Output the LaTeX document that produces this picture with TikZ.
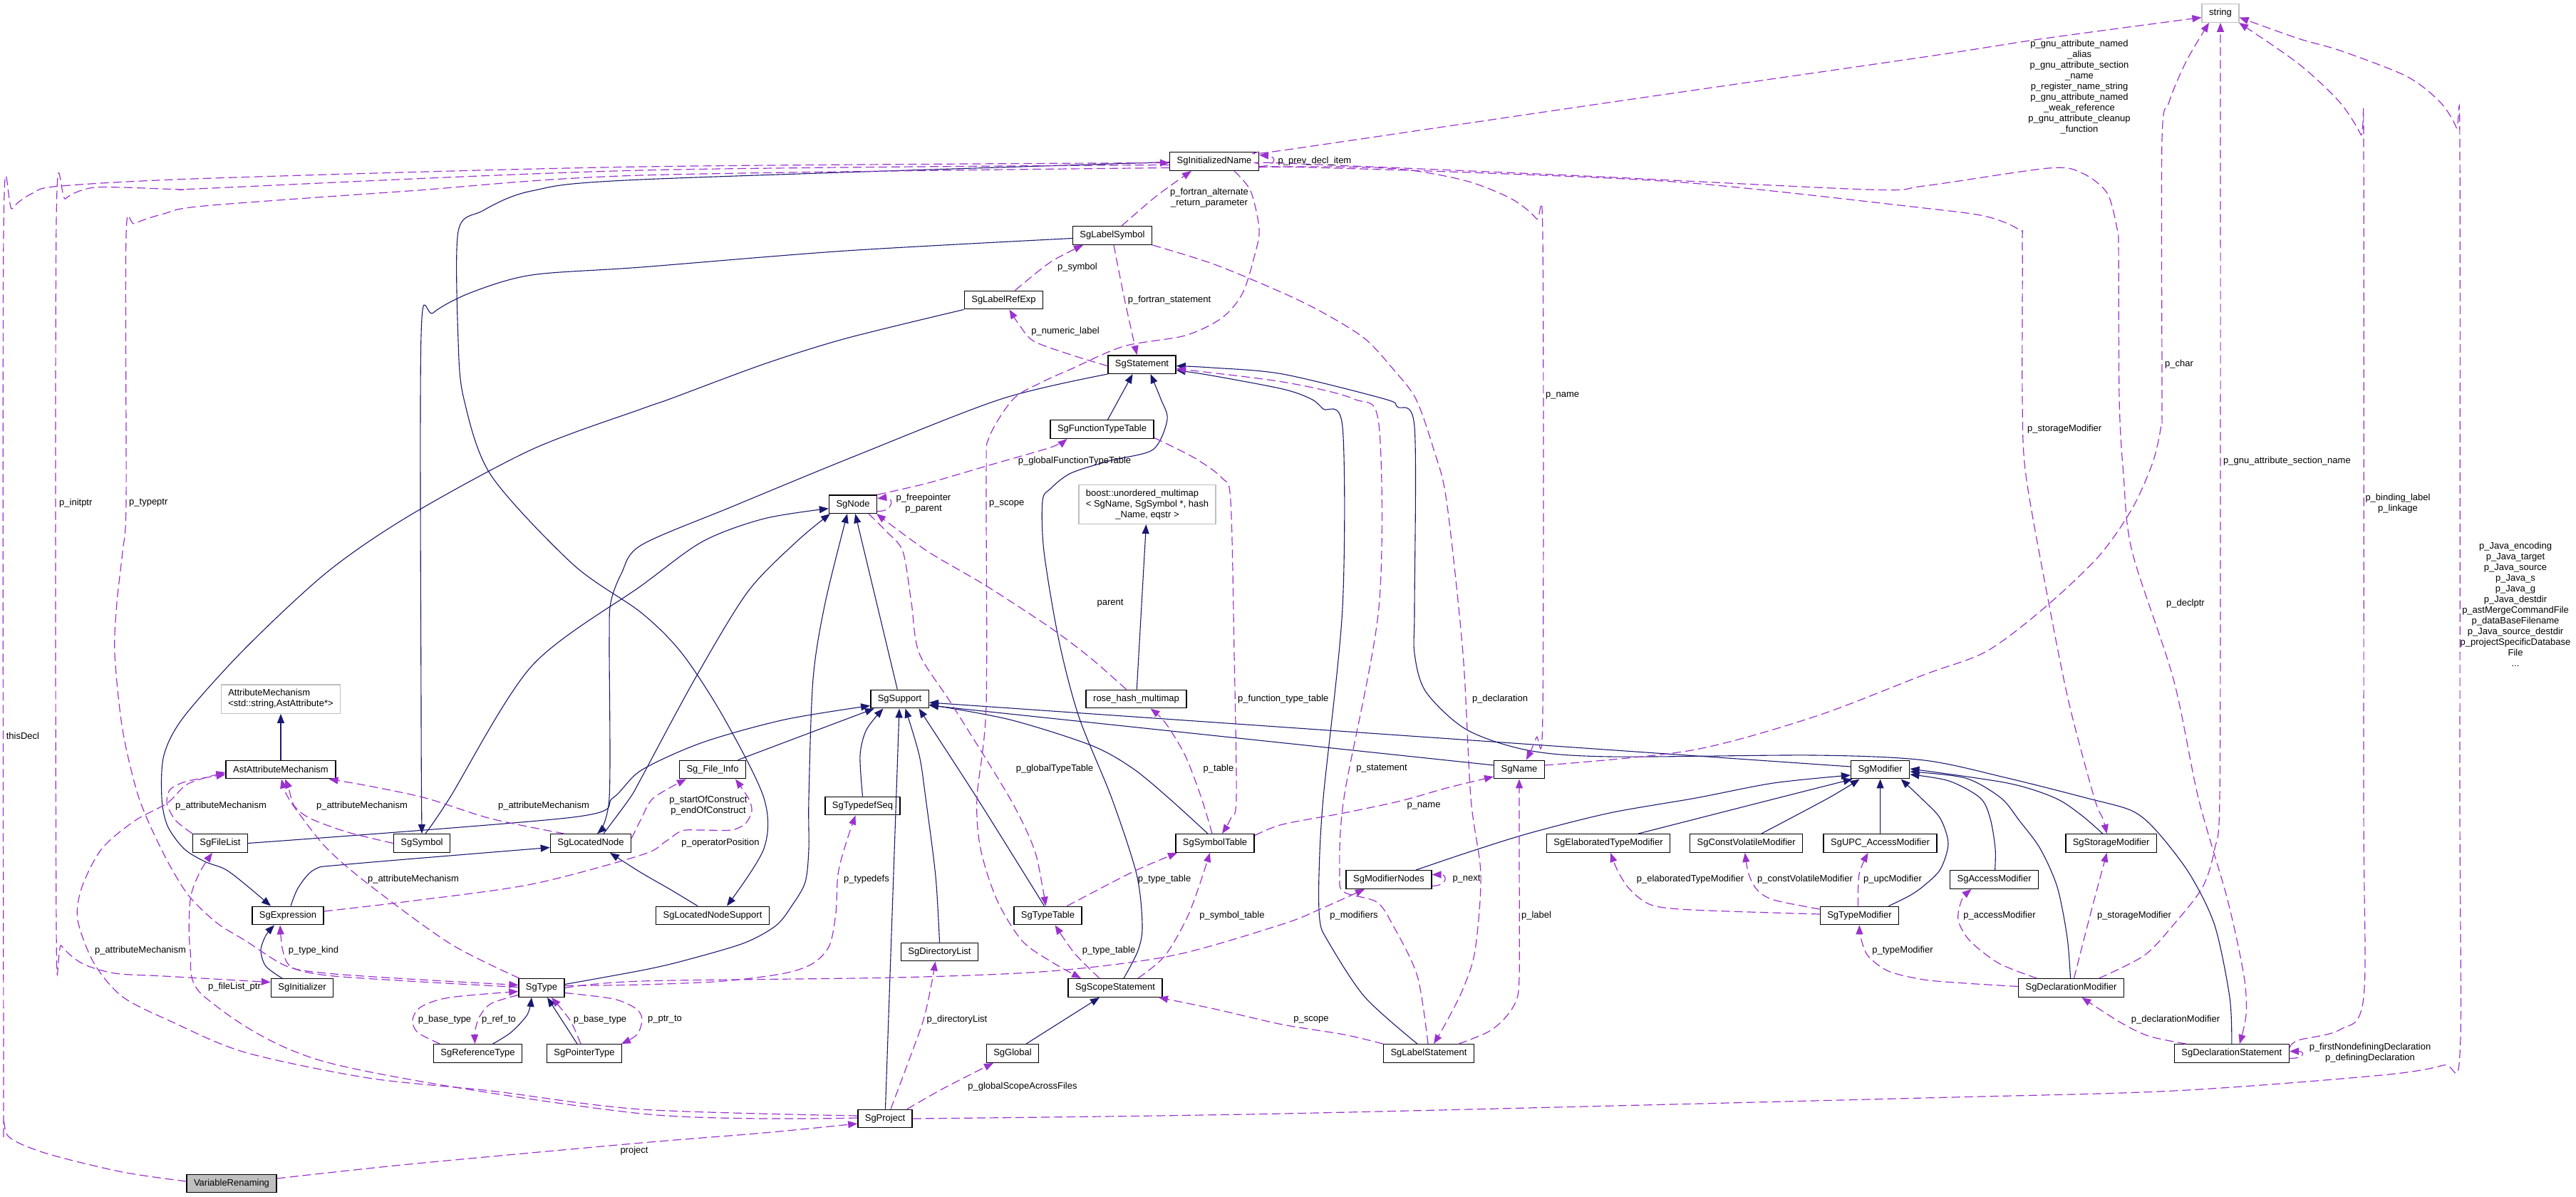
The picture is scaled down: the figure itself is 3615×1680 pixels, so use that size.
\documentclass[tikz,border=0pt]{standalone}
\usepackage{fontspec}
\setmainfont{Liberation Sans}
\usetikzlibrary{arrows.meta}
\definecolor{inhblue}{RGB}{25,25,112}
\definecolor{usepurple}{RGB}{154,50,205}
\definecolor{extgray}{RGB}{191,191,191}

\begin{document}
\begin{tikzpicture}[x=1pt,y=-1pt,font=\fontsize{13}{15}\selectfont,
    cls/.style={draw,line width=1.4pt,fill=white,inner xsep=10pt,inner ysep=0pt,minimum height=25.5pt},
    ext/.style={cls,draw=extgray},
    inh/.style={draw=inhblue,line width=1.1pt,-{Triangle[length=13pt,width=10pt]}},
    use/.style={draw=usepurple,line width=1.2pt,dash pattern=on 12pt off 6pt,-{Triangle[length=13pt,width=10pt]}},
    lbl/.style={inner sep=0pt,align=center}]
    \useasboundingbox (0,0) rectangle (3615,1680);

    \node[ext] (str) at (3116,18.5) {string};
    \node[cls] (ini) at (1704,226.5) {SgInitializedName};
    \node[cls] (lsym) at (1561,330.5) {SgLabelSymbol};
    \node[cls] (lref) at (1408.5,421) {SgLabelRefExp};
    \node[cls] (stmt) at (1602.5,511.6) {SgStatement};
    \node[cls] (ftt) at (1546.5,602.5) {SgFunctionTypeTable};
    \node[cls] (sgnode) at (1197,707.7) {SgNode};
    \node[ext,minimum height=54.7pt] (boost) at (1610,708) {\begin{tabular}{@{}l@{}}boost::unordered\_multimap\\< SgName, SgSymbol *, hash\\\multicolumn{1}{@{}c@{}}{\_Name, eqstr >}\end{tabular}};
    \node[cls] (sup) at (1262.5,981) {SgSupport};
    \node[cls] (rhm) at (1594.5,981) {rose\_hash\_multimap};
    \node[cls] (finfo) at (1000,1080) {Sg\_File\_Info};
    \node[ext,minimum height=40.4pt] (attm) at (394,981) {\begin{tabular}{@{}l@{}}AttributeMechanism\\<std::string,AstAttribute*>\end{tabular}};
    \node[cls] (astm) at (394,1080) {AstAttributeMechanism};
    \node[cls] (flist) at (309,1183.5) {SgFileList};
    \node[cls] (sym) at (592,1183.5) {SgSymbol};
    \node[cls] (lnode) at (829,1183.5) {SgLocatedNode};
    \node[cls] (expr) at (404,1285) {SgExpression};
    \node[cls] (init) at (424,1386.5) {SgInitializer};
    \node[cls] (type) at (760,1386.5) {SgType};
    \node[cls] (rtype) at (670.5,1478.5) {SgReferenceType};
    \node[cls] (ptype) at (820,1478.5) {SgPointerType};
    \node[cls,fill=extgray] (vr) at (325,1661) {VariableRenaming};
    \node[cls] (tds) at (1210.5,1131) {SgTypedefSeq};
    \node[cls] (lns) at (1000,1285) {SgLocatedNodeSupport};
    \node[cls] (ttab) at (1470.5,1285) {SgTypeTable};
    \node[cls] (stab) at (1705,1183.5) {SgSymbolTable};
    \node[cls] (dlist) at (1318.5,1336) {SgDirectoryList};
    \node[cls] (scope) at (1565,1386.5) {SgScopeStatement};
    \node[cls] (glob) at (1421,1478.5) {SgGlobal};
    \node[cls] (proj) at (1242,1570) {SgProject};
    \node[cls] (name) at (2132,1080) {SgName};
    \node[cls] (mod) at (2638.6,1080) {SgModifier};
    \node[cls] (mnodes) at (1949,1234.5) {SgModifierNodes};
    \node[cls] (etm) at (2257,1183.5) {SgElaboratedTypeModifier};
    \node[cls] (cvm) at (2450.7,1183.5) {SgConstVolatileModifier};
    \node[cls] (upc) at (2638.5,1183.5) {SgUPC\_AccessModifier};
    \node[cls] (tmod) at (2609.4,1285) {SgTypeModifier};
    \node[cls] (lstmt) at (2005,1478.5) {SgLabelStatement};
    \node[cls] (smod) at (2962.6,1183.5) {SgStorageModifier};
    \node[cls] (amod) at (2798.6,1234.5) {SgAccessModifier};
    \node[cls] (dmod) at (2906.5,1386.5) {SgDeclarationModifier};
    \node[cls] (dstmt) at (3131.8,1478.5) {SgDeclarationStatement};

    \draw[inh] (astm) -- (attm);
    \draw[inh] (sup) -- (sgnode);
    \draw[inh] plot[smooth] coordinates {([xshift=18]lnode.north) (884,1120) (900,1092) (975,953) (1049,831) (1118,760) ([xshift=-32]sgnode.south)};
    \draw[inh] plot[smooth] coordinates {([xshift=5]sym.north) (631,1120) (746,935) (900,822) (986,760) (1072,728) ([yshift=-6]sgnode.west)};
    \draw[inh] plot[smooth] coordinates {([yshift=5]type.east) (900,1362) (957,1349) (1043,1324) (1089,1299) (1112,1270) (1130,1238) (1135,1191) (1135,1120) (1141,953) (1158,846) ([xshift=-8]sgnode.south)};
    \draw[inh] (finfo) -- (sup);
    \draw[inh] plot[smooth] coordinates {(flist.east) (804,1147) (860,1120) (900,1081) (986,1042) (1101,1010) ([yshift=4]sup.south west)};
    \draw[inh] plot[smooth] coordinates {(tds.north) (1207,1060) (1216,1024) ([xshift=-23]sup.south)};
    \draw[inh] (proj) -- (sup);
    \draw[inh] plot[smooth] coordinates {(dlist.north) (1313,1230) (1299,1120) (1290,1060) ([xshift=8]sup.south)};
    \draw[inh] plot[smooth] coordinates {([xshift=-5]ttab.north) (1371,1120) ([xshift=27]sup.south)};
    \draw[inh] plot[smooth] coordinates {([xshift=-10]stab.north) (1640,1120) (1589,1078) (1531,1046) (1417,1010) ([yshift=-8]sup.east)};
    \draw[inh] ([yshift=6]name.west) -- ([yshift=-9]sup.east);
    \draw[inh] ([yshift=4]mod.west) -- ([yshift=-5]sup.east);
    \draw[inh] plot[smooth] coordinates {(stmt.south west) (1405,560) (1200,640) (1030,710) (900,765) (872,805) (857,846) (855,900) (855,1120) ([xshift=9]lnode.north)};
    \draw[inh] plot[smooth] coordinates {([xshift=4]expr.north) (419,1245) (442,1220) (488,1213) ([yshift=-6]lnode.west)};
    \draw[inh] plot[smooth] coordinates {([xshift=-21]lns.north) (940,1248) (900,1225) ([xshift=27]lnode.south)};
    \draw[inh] plot[smooth] coordinates {([yshift=-1]ini.west) (900,252) (746,268) (677,296) (643,325) (643,478) (651,560) (689,667) (804,792) (900,860) (957,917) (1015,1006) (1072,1120) (1072,1191) ([xshift=20]lns.north)};
    \draw[inh] plot[smooth] coordinates {([yshift=-4]lsym.west) (1187,352) (900,375) (746,386) (660,411) (608,439) (591,470) (591,1000) (sym.north)};
    \draw[inh] plot[smooth] coordinates {(lref.south west) (1187,475) (1072,511) (940,560) (900,574) (746,631) (574,724) (459,803) (344,910) (258,1006) (230,1060) (227,1120) (235,1159) (258,1191) (287,1209) (316,1220) (344,1241) ([xshift=-24]expr.north)};
    \draw[inh] plot[smooth] coordinates {([xshift=-28]init.north) (373,1356) (366,1334) (373,1313) ([xshift=-19]expr.south)};
    \draw[inh] ([xshift=8]ftt.north) -- ([xshift=-13]stmt.south);
    \draw[inh] plot[smooth] coordinates {([xshift=12]scope.north) (1597,1334) (1603,1299) (1595,1227) (1560,1120) (1514,1006) (1486,899) (1465,774) (1463,703) (1474,686) (1503,664) (1560,646) (1618,631) (1638,589) (1629,560) ([xshift=12]stmt.south)};
    \draw[inh] plot[smooth] coordinates {([xshift=-16]lstmt.north) (1915,1399) (1863,1320) (1852,1291) (1851,1227) (1857,1120) (1884,853) (1884,599) (1857,574) (1840,560) (1800,546) (1700,527) ([yshift=-8]stmt.east)};
    \draw[inh] plot[smooth] coordinates {(dstmt.north) (3129,1400) (3108,1299) (3073,1227) (3027,1167) (2992,1138) (2928,1120) (2817,1092) (2700,1067) (2546,1060) (2259,1062) (2144,1053) (2058,1024) (2001,971) (1985,917) (1985,853) (1985,599) (1961,571) (1943,560) (1800,525) (1700,516) ([yshift=-2]stmt.east)};
    \draw[inh] ([xshift=19]glob.north) -- ([xshift=-22]scope.south);
    \draw[inh] plot[smooth] coordinates {([xshift=21]rtype.north) (717,1449) (740,1424) ([xshift=-14]type.south)};
    \draw[inh] ([xshift=-10]ptype.north) -- ([xshift=8]type.south);
    \draw[inh] (rhm) -- (boost);
    \draw[inh] plot[smooth] coordinates {([xshift=38]mnodes.north) (2058,1197) (2144,1170) (2259,1141) (2380,1120) (2489,1099) ([yshift=-8]mod.west)};
    \draw[inh] plot[smooth] coordinates {([xshift=42]etm.north) (2495,1120) ([xshift=3]mod.south west)};
    \draw[inh] plot[smooth] coordinates {([xshift=21]cvm.north) (2566,1120) ([xshift=-29]mod.south)};
    \draw[inh] (upc) -- (mod);
    \draw[inh] plot[smooth] coordinates {([xshift=41]tmod.north) (2680,1257) (2700,1243) (2723,1220) (2734,1184) (2723,1149) (2700,1124) ([xshift=29]mod.south)};
    \draw[inh] plot[smooth] coordinates {([xshift=1]amod.north) (2800,1191) (2793,1149) (2779,1120) (2735,1096) ([yshift=-7]mod.east)};
    \draw[inh] plot[smooth] coordinates {([xshift=-1]dmod.north) (2901,1316) (2887,1245) (2863,1191) (2834,1152) (2808,1120) (2758,1092) ([yshift=-3]mod.east)};
    \draw[inh] plot[smooth] coordinates {([xshift=-12]smod.north) (2922,1145) (2884,1120) (2817,1099) ([yshift=1]mod.east)};

    \draw[use] plot[smooth] coordinates {([yshift=3]vr.west) (172,1645) (69,1620) (17,1599) (6,1577) (5,1500) (5,330) (17,293) (46,271) (86,261) (300,250) (900,234) ([yshift=-2]ini.west)};
    \draw[use] plot[smooth] coordinates {([yshift=7]vr.east) (574,1634) (900,1604) (1072,1590) ([yshift=-7]proj.west)};
    \draw[use] plot[smooth] coordinates {([yshift=-5]ini.west) (900,239) (298,264) (258,266) (172,263) (126,264) (92,279) (79,314) (79,1299) (86,1327) (115,1352) (161,1366) (230,1370) ([yshift=8]init.west)};
    \draw[use] plot[smooth] coordinates {([yshift=-9]ini.west) (900,246) (574,268) (287,289) (230,300) (189,314) (177,330) (177,703) (172,774) (164,846) (161,917) (172,1024) (195,1120) (230,1199) (264,1256) (304,1295) (344,1320) (402,1356) (459,1366) (574,1374) ([yshift=4]type.west)};
    \draw[use] plot[smooth] coordinates {([yshift=1]type.west) (574,1377) (459,1369) (410,1358) (397,1335) ([xshift=-11]expr.south)};
    \draw[use] plot[smooth] coordinates {([xshift=-53]rtype.north) (586,1449) (579,1431) (591,1413) (631,1400) ([yshift=-5]type.west)};
    \draw[use] plot[smooth] coordinates {([yshift=-10]type.west) (690,1408) (674,1425) (667,1445) ([xshift=-4]rtype.north)};
    \draw[use] plot[smooth] coordinates {([xshift=-5]ptype.north) (800,1432) ([xshift=14]type.south)};
    \draw[use] plot[smooth] coordinates {([yshift=-7]type.east) (861,1402) (893,1416) (901,1431) (894,1452) ([xshift=52]ptype.north)};
    \draw[use] plot[smooth] coordinates {([yshift=3]type.east) (900,1382) (1015,1377) (1101,1366) (1141,1352) (1164,1327) (1173,1281) (1176,1227) (1187,1184) ([xshift=-10]tds.south)};
    \draw[use] plot[smooth] coordinates {(type.east) (900,1377) (1256,1372) (1474,1363) (1646,1341) (1800,1297) (1857,1274) ([xshift=-34]mnodes.south)};
    \draw[use] plot[smooth] coordinates {([xshift=27]ttab.north) (1589,1224) ([xshift=-53]stab.south)};
    \draw[use] plot[smooth] coordinates {([xshift=-22]scope.north) (1508,1338) ([xshift=10]ttab.south)};
    \draw[use] plot[smooth] coordinates {([xshift=32]scope.north) (1635,1341) (1669,1281) ([xshift=-7]stab.south)};
    \draw[use] plot[smooth] coordinates {([xshift=28]ini.south) (1755,268) (1767,321) (1761,357) (1744,411) (1715,446) (1663,471) (1577,486) (1503,518) (1463,536) (1422,560) (1388,614) (1384,667) (1384,989) (1371,1120) (1376,1191) (1399,1263) (1434,1320) (1474,1349) ([xshift=-48]scope.north)};
    \draw[use] plot[smooth] coordinates {([xshift=-64]lstmt.north) (1886,1452) (1800,1438) (1704,1416) ([xshift=61]scope.south)};
    \draw[use] plot[smooth] coordinates {(lsym.south east) (1704,371) (1800,411) (1857,439) (1915,475) (1955,518) (1987,560) (2012,631) (2030,703) (2053,917) (2064,1120) (2078,1227) (2070,1334) (2053,1388) (2030,1434) ([xshift=7]lstmt.north)};
    \draw[use] plot[smooth] coordinates {([xshift=-1]lstmt.north) (1989,1370) (1955,1299) (1932,1266) (1886,1252) (1880,1227) (1886,1120) (1935,853) (1935,596) (1900,560) (1800,536) ([yshift=-6]stmt.east)};
    \draw[use] plot[smooth] coordinates {([xshift=2]lsym.south) (1569,375) (1580,429) ([xshift=-7]stmt.north)};
    \draw[use] plot[smooth] coordinates {([yshift=-2]stmt.west) (1503,498) (1451,479) (1431,457) ([xshift=8]lref.south)};
    \draw[use] plot[smooth] coordinates {([xshift=16]lref.north) (1474,368) ([xshift=-41]lsym.south)};
    \draw[use] plot[smooth] coordinates {([xshift=13]lsym.north) (1623,275) ([xshift=-32]ini.south)};
    \draw[use] ([yshift=-7]ini.east) .. controls +(25,0) and +(25,2) .. ([yshift=9]ini.east);
    \draw[use] plot[smooth] coordinates {([yshift=-8]ini.east) (1875,234) (1972,238) (2058,254) (2121,279) (2156,307) (2165,335) (2165,999) (2156,1035) ([xshift=10]name.north)};
    \draw[use] plot[smooth] coordinates {([yshift=11]stab.east) (1800,1157) (1886,1141) (1966,1124) (2030,1106) ([yshift=-10]name.west)};
    \draw[use] plot[smooth] coordinates {([xshift=42]lstmt.north) (2087,1449) (2110,1431) (2127,1406) (2132,1370) (2132,1200) (name.south)};
    \draw[use] plot[smooth] coordinates {([yshift=6]name.east) (2374,1053) (2546,1006) (2700,947) (2788,914) (2869,853) (2945,781) (2992,714) (3021,649) (3033,596) (3034,560) (3034,196) (3044,143) (3068,86) ([xshift=-16]str.south)};
    \draw[use] plot[smooth] coordinates {(ini.north east) (1800,211) (2250,145) (2700,80) (2869,54) ([yshift=-6]str.west)};
    \draw[use] plot[smooth] coordinates {([yshift=-10]ini.east) (1800,234) (2087,243) (2374,257) (2700,292) (2788,304) (2834,323) (2838,345) (2838,560) (2843,667) (2875,846) (2904,989) (2939,1120) (2951,1149) ([xshift=-6]smod.north)};
    \draw[use] plot[smooth] coordinates {([yshift=-3]ini.east) (1800,229) (2202,246) (2621,266) (2700,261) (2875,236) (2922,243) (2957,271) (2971,321) (2973,345) (2974,560) (2980,667) (2992,774) (3050,953) (3085,1120) (3126,1263) (3149,1370) (3152,1424) ([xshift=11]dstmt.north)};
    \draw[use] plot[smooth] coordinates {([xshift=39]dmod.north) (3009,1341) (3050,1298) (3091,1245) (3108,1191) (3115,1120) (3116,700) (str.south)};
    \draw[use] plot[smooth] coordinates {([yshift=8]dstmt.east) (3225,1460) (3284,1445) (3317,1399) (3317,1120) (3317,214) (3313,189) (3283,143) (3225,89) ([xshift=26]str.south)};
    \draw[use] plot[smooth] coordinates {(proj.east) (1800,1563) (2700,1541) (3050,1531) (3342,1509) (3429,1495) (3452,1480) (3452,1120) (3452,214) (3447,179) (3424,143) (3377,107) (3284,71) (3225,54) ([yshift=-6]str.east)};
    \draw[use] ([yshift=-7]dstmt.east) .. controls +(22,0) and +(22,0) .. ([yshift=3]dstmt.east);
    \draw[use] plot[smooth] coordinates {([xshift=-64]dstmt.north) (3015,1454) (2974,1434) ([xshift=15]dmod.south)};
    \draw[use] plot[smooth] coordinates {([xshift=4]dmod.north) (2933,1285) ([xshift=-6]smod.south)};
    \draw[use] plot[smooth] coordinates {([xshift=-48]dmod.north) (2805,1352) (2764,1320) (2748,1291) (2753,1263) ([xshift=-32]amod.south)};
    \draw[use] plot[smooth] coordinates {([yshift=2]dmod.west) (2758,1380) (2700,1375) (2650,1363) (2621,1341) (2611,1315) (tmod.south)};
    \draw[use] plot[smooth] coordinates {([yshift=2]tmod.west) (2374,1277) (2317,1270) (2288,1249) (2271,1224) ([xshift=3]etm.south)};
    \draw[use] plot[smooth] coordinates {([yshift=9]tmod.west) (2489,1263) (2466,1249) (2454,1227) ([xshift=-2]cvm.south)};
    \draw[use] plot[smooth] coordinates {([xshift=-2]tmod.north) (2609,1227) ([xshift=-17]upc.south)};
    \draw[use] ([yshift=-9]mnodes.east) .. controls +(22,0) and +(22,0) .. ([yshift=7]mnodes.east);
    \draw[use] plot[smooth] coordinates {([yshift=6]expr.east) (574,1265) (746,1241) (900,1200) (934,1181) (957,1166) (986,1165) (1026,1165) (1046,1156) (1055,1138) (1050,1120) ([xshift=32]finfo.south)};
    \draw[use] plot[smooth] coordinates {([yshift=7]lnode.east) (900,1149) (917,1120) ([xshift=-37]finfo.south)};
    \draw[use] plot[smooth] coordinates {([xshift=-39]flist.north) (247,1152) (235,1131) (235,1117) (241,1106) (264,1096) ([yshift=-7]astm.west)};
    \draw[use] plot[smooth] coordinates {(sym.west) (488,1168) (436,1149) (413,1131) (405,1106) ([xshift=6]astm.south)};
    \draw[use] plot[smooth] coordinates {([xshift=-37]lnode.north) (689,1149) (597,1120) (517,1103) ([xshift=-10]astm.south east)};
    \draw[use] plot[smooth] coordinates {([xshift=-31]type.north) (631,1324) (517,1241) (459,1191) (419,1141) (402,1115) ([xshift=1]astm.south)};
    \draw[use] plot[smooth] coordinates {([yshift=4]proj.west) (900,1557) (689,1531) (517,1513) (344,1477) (241,1434) (172,1399) (132,1352) (109,1291) (115,1245) (143,1191) (189,1152) (235,1127) (264,1100) ([yshift=-4]astm.west)};
    \draw[use] plot[smooth] coordinates {([yshift=1]proj.west) (900,1563) (459,1491) (287,1399) (267,1334) (267,1263) (280,1225) ([xshift=-11]flist.south)};
    \draw[use] plot[smooth] coordinates {([xshift=8]proj.north) (1273,1495) (1296,1431) (1308,1377) ([xshift=-6]dlist.south)};
    \draw[use] plot[smooth] coordinates {([xshift=31]proj.north) (1325,1527) ([xshift=-27]glob.south)};
    \draw[use] ([yshift=-10]sgnode.east) .. controls +(25,0) and +(22,-3) .. ([yshift=8]sgnode.east);
    \draw[use] plot[smooth] coordinates {([xshift=-14]rhm.north) (1531,924) (1474,881) (1382,821) (1302,774) ([xshift=33]sgnode.south)};
    \draw[use] plot[smooth] coordinates {([xshift=-4]stab.north) (1686,1120) (1663,1060) (1635,1014) ([xshift=20]rhm.south)};
    \draw[use] plot[smooth] coordinates {([yshift=-12]ftt.east) (1675,642) (1715,671) (1727,703) (1732,917) (1735,1120) (1727,1149) ([xshift=10]stab.north)};
    \draw[use] plot[smooth] coordinates {([xshift=22]sgnode.south) (1244,746) (1267,774) (1279,846) (1290,917) (1336,989) (1417,1120) (1451,1191) (1463,1245) ([xshift=-3]ttab.north)};
    \draw[use] plot[smooth] coordinates {(sgnode.north east) (1302,678) (1388,653) (1474,628) ([xshift=-49]ftt.south)};

    \node[lbl,anchor=west] (lthis) at (8.6,1033) {thisDecl};
    \node[lbl] (lproj) at (890,1615) {project};
    \node[lbl,anchor=west] (linit) at (83,706) {p\_initptr};
    \node[lbl,anchor=west] (ltptr) at (181,706) {p\_typeptr};
    \node[lbl] (ltkind) at (440,1334) {p\_type\_kind};
    \node[lbl] (lbase1) at (624,1431) {p\_base\_type};
    \node[lbl] (lrefto) at (700,1431) {p\_ref\_to};
    \node[lbl] (lbase2) at (842,1431) {p\_base\_type};
    \node[lbl] (lptrto) at (933,1431) {p\_ptr\_to};
    \node[lbl] (ltdefs) at (1216,1234) {p\_typedefs};
    \node[lbl] (lmods) at (1900,1285) {p\_modifiers};
    \node[lbl] (lttab1) at (1634,1234) {p\_type\_table};
    \node[lbl] (lttab2) at (1556,1334) {p\_type\_table};
    \node[lbl] (lstab) at (1729,1285) {p\_symbol\_table};
    \node[lbl,anchor=west] (lscope1) at (1388,707) {p\_scope};
    \node[lbl] (lscope2) at (1840,1431) {p\_scope};
    \node[lbl] (ldecl) at (2105,981) {p\_declaration};
    \node[lbl] (lstmtl) at (1939,1079) {p\_statement};
    \node[lbl] (lfstmt) at (1641,421) {p\_fortran\_statement};
    \node[lbl] (lnum) at (1495,465) {p\_numeric\_label};
    \node[lbl] (lsymb) at (1512,375) {p\_symbol};
    \node[lbl] (lfalt) at (1697,278) {p\_fortran\_alternate\\\_return\_parameter};
    \node[lbl] (lprev) at (1845,226) {p\_prev\_decl\_item};
    \node[lbl,anchor=west] (lname1) at (2169,555) {p\_name};
    \node[lbl] (lname2) at (1998,1131) {p\_name};
    \node[lbl] (llabel) at (2156,1285) {p\_label};
    \node[lbl,anchor=west] (lchar) at (3038,511) {p\_char};
    \node[lbl] (lgnu) at (2918,122) {p\_gnu\_attribute\_named\\\_alias\\p\_gnu\_attribute\_section\\\_name\\p\_register\_name\_string\\p\_gnu\_attribute\_named\\\_weak\_reference\\p\_gnu\_attribute\_cleanup\\\_function};
    \node[lbl,anchor=west] (lsmod1) at (2845,602) {p\_storageModifier};
    \node[lbl,anchor=west] (ldeclptr) at (3040,847) {p\_declptr};
    \node[lbl,anchor=west] (lsect) at (3120,647) {p\_gnu\_attribute\_section\_name};
    \node[lbl] (lbind) at (3365,707) {p\_binding\_label\\p\_linkage};
    \node[lbl] (ljava) at (3530,848) {p\_Java\_encoding\\p\_Java\_target\\p\_Java\_source\\p\_Java\_s\\p\_Java\_g\\p\_Java\_destdir\\p\_astMergeCommandFile\\p\_dataBaseFilename\\p\_Java\_source\_destdir\\p\_projectSpecificDatabase\\File\\...};
    \node[lbl] (ldefn) at (3326,1478) {p\_firstNondefiningDeclaration\\p\_definingDeclaration};
    \node[lbl] (ldmod) at (3053,1431) {p\_declarationModifier};
    \node[lbl] (lsmod2) at (2995,1285) {p\_storageModifier};
    \node[lbl] (lamod) at (2806,1285) {p\_accessModifier};
    \node[lbl] (ltmod) at (2670,1334) {p\_typeModifier};
    \node[lbl] (letm) at (2372,1234) {p\_elaboratedTypeModifier};
    \node[lbl] (lcvm) at (2533,1234) {p\_constVolatileModifier};
    \node[lbl] (lupc) at (2656,1234) {p\_upcModifier};
    \node[lbl] (lnext) at (2058,1234) {p\_next};
    \node[lbl] (lopos) at (1011,1183) {p\_operatorPosition};
    \node[lbl] (lsoc) at (994,1131) {p\_startOfConstruct\\p\_endOfConstruct};
    \node[lbl] (lam1) at (310,1131) {p\_attributeMechanism};
    \node[lbl] (lam2) at (508,1131) {p\_attributeMechanism};
    \node[lbl] (lam3) at (763,1131) {p\_attributeMechanism};
    \node[lbl] (lam4) at (580,1234) {p\_attributeMechanism};
    \node[lbl] (lam5) at (197,1334) {p\_attributeMechanism};
    \node[lbl] (lflist) at (329,1385) {p\_fileList\_ptr};
    \node[lbl] (ldlist) at (1343,1431) {p\_directoryList};
    \node[lbl] (lglob) at (1435,1525) {p\_globalScopeAcrossFiles};
    \node[lbl] (lfree) at (1296,707) {p\_freepointer\\p\_parent};
    \node[lbl] (lparent) at (1558,847) {parent};
    \node[lbl] (ltable) at (1710,1079) {p\_table};
    \node[lbl,anchor=west] (lftt) at (1737,981) {p\_function\_type\_table};
    \node[lbl] (lgtt) at (1480,1079) {p\_globalTypeTable};
    \node[lbl] (lgftt) at (1508,647) {p\_globalFunctionTypeTable};
  \end{tikzpicture}
\end{document}
